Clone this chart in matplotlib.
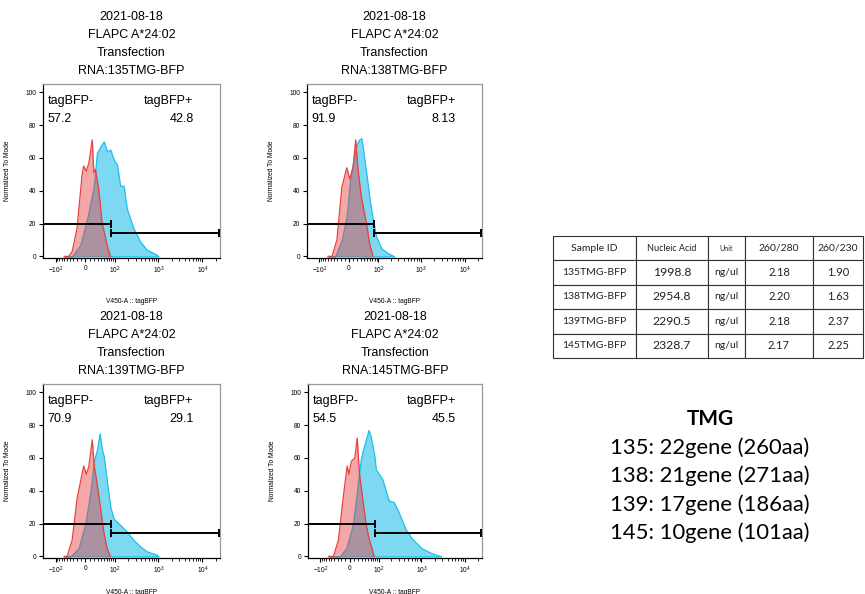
import matplotlib
matplotlib.use("Agg")
import matplotlib.pyplot as plt
import numpy as np

# ---- data ----
titles = ["RNA:135TMG-BFP", "RNA:138TMG-BFP", "RNA:139TMG-BFP", "RNA:145TMG-BFP"]
title_head = ["2021-08-18", "FLAPC A*24:02", "Transfection"]
neg_pct = ["57.2", "91.9", "70.9", "54.5"]
pos_pct = ["42.8", "8.13", "29.1", "45.5"]

# control (red) histograms: x = V450-A value, y = % of mode
red_x = [
    [-60, -43, -33, -20, -8, -4, 2, 8, 16, 20, 24, 33, 43, 61, 75],
    [-60, -45, -30, -17, -5, 2, 10, 16, 22, 31, 47, 58, 72],
    [-60, -49, -33, -20, -8, -4, 2, 8, 16, 21, 28, 38, 49, 61, 75],
    [-60, -43, -28, -16, -6, -2, 4, 12, 18, 24, 33, 43, 55, 75],
]
red_y = [
    [0, 0, 3, 17, 49, 55, 52, 57, 71, 51, 53, 41, 21, 7, 0],
    [0, 0, 10, 42, 54, 47, 55, 71, 53, 36, 20, 8, 0],
    [0, 0, 10, 35, 50, 55, 50, 55, 71, 55, 45, 30, 15, 5, 0],
    [0, 0, 10, 35, 55, 50, 58, 60, 72, 50, 35, 20, 10, 0],
]
# sample (blue) histograms
blue_x = [
    [-60, -33, -12, 4, 20, 28, 38, 49, 61, 75, 91, 110, 132, 159, 190, 270, 384, 545, 916, 1000],
    [-60, -35, -17, -5, 2, 10, 18, 24, 31, 36, 47, 58, 72, 88, 117, 168, 238],
    [-60, -38, -16, 0, 12, 20, 28, 36, 43, 49, 61, 75, 91, 110, 145, 190, 270, 384, 545, 916, 1000],
    [-60, -24, -8, 8, 20, 28, 38, 52, 60, 75, 83, 121, 173, 227, 295, 420, 595, 1000, 1680, 2840],
]
blue_y = [
    [0, 0, 7, 23, 43, 63, 67, 70, 64, 65, 59, 56, 43, 43, 29, 17, 9, 4, 1, 0],
    [0, 0, 10, 25, 45, 58, 68, 71, 72, 65, 50, 35, 22, 12, 5, 2, 0],
    [0, 0, 5, 20, 40, 58, 65, 75, 65, 61, 45, 30, 23, 21, 18, 15, 10, 6, 3, 1, 0],
    [0, 0, 5, 20, 45, 60, 68, 77, 73, 62, 53, 47, 34, 33, 27, 17, 11, 5, 2, 0],
]
gate_cut = 78
neg_gate_y = 20
pos_gate_y = 14.5

table_cols = ["Sample ID", "Nucleic Acid", "Unit", "260/280", "260/230"]
samples = ["135TMG-BFP", "138TMG-BFP", "139TMG-BFP", "145TMG-BFP"]
nucleic = ["1998.8", "2954.8", "2290.5", "2328.7"]
units = ["ng/ul", "ng/ul", "ng/ul", "ng/ul"]
r280 = ["2.18", "2.20", "2.18", "2.17"]
r230 = ["1.90", "1.63", "2.37", "2.25"]

tmg_lines = ["135: 22gene (260aa)", "138: 21gene (271aa)",
             "139: 17gene (186aa)", "145: 10gene (101aa)"]

W, H = 865, 594
plt.rcParams['font.family'] = ['Liberation Sans', 'DejaVu Sans']
plt.rcParams['mathtext.fontset'] = 'custom'
plt.rcParams['mathtext.rm'] = 'Liberation Sans'
plt.rcParams['mathtext.it'] = 'Liberation Sans'
fig = plt.figure(figsize=(W / 100, H / 100), dpi=100)

# pixel boxes of the four histogram panels: left, right, top, bottom
boxes = [(43, 220, 84, 258), (307, 482, 84, 258),
         (43, 220, 384, 558), (308, 482, 384, 558)]

def px_axes(l, r, t, b):
    return fig.add_axes([l / W, (H - b) / H, (r - l) / W, (b - t) / H])

minor = ([-v for v in range(10, 100, 10)] + list(range(10, 100, 10)) +
         list(range(200, 1000, 100)) + list(range(2000, 10000, 1000)) + [20000])

for i, (l, r, t, b) in enumerate(boxes):
    ax = px_axes(l, r, t, b)
    ax.set_xscale('asinh', linear_width=44)
    ax.fill_between(blue_x[i], blue_y[i], color='#7dd8f2', edgecolor='#1ebfea', lw=0.9, zorder=2)
    ax.fill_between(red_x[i], red_y[i], color='#e63c3c', alpha=0.45, lw=0, zorder=3)
    ax.plot(red_x[i], red_y[i], color='#e8403c', lw=0.9, zorder=4)
    ax.set_xlim(-200, 25000)
    ax.set_ylim(-1, 105)

    # gates
    ax.plot([-300, gate_cut], [neg_gate_y, neg_gate_y], color='black', lw=1.4, zorder=5)
    ax.plot([gate_cut], [neg_gate_y], marker='|', ms=6, mew=1.4, color='black', zorder=5)
    ax.plot([gate_cut, 23500], [pos_gate_y, pos_gate_y], color='black', lw=1.4, zorder=5)
    ax.plot([gate_cut, 23500], [pos_gate_y, pos_gate_y], ls='none', marker='|', ms=6, mew=1.4,
            color='black', zorder=5)

    ax.text(0.025, 0.90, "tagBFP-", transform=ax.transAxes, fontsize=9, va='center', ha='left')
    ax.text(0.025, 0.80, neg_pct[i], transform=ax.transAxes, fontsize=9, va='center', ha='left')
    ax.text(0.85, 0.90, "tagBFP+", transform=ax.transAxes, fontsize=9, va='center', ha='right')
    ax.text(0.85, 0.80, pos_pct[i], transform=ax.transAxes, fontsize=9, va='center', ha='right')

    ax.set_xticks([-100, 0, 100, 1000, 10000])
    ax.set_xticklabels([r"$-10^2$", "0", r"$10^2$", r"$10^3$", r"$10^4$"])
    ax.set_xticks(minor, minor=True)
    ax.set_yticks([0, 20, 40, 60, 80, 100])
    ax.tick_params(axis='both', which='major', labelsize=4.8, length=3, width=0.8, pad=2)
    ax.tick_params(axis='x', which='minor', length=2, width=0.6)
    ax.tick_params(axis='y', which='minor', left=False)
    ax.set_ylabel("Normalized To Mode", fontsize=4.8, labelpad=10)
    ax.set_xlabel("V450-A :: tagBFP", fontsize=4.8, labelpad=16 if i < 2 else 9)
    for s in ['top', 'right']:
        ax.spines[s].set_color('#999999')
    for s in ax.spines.values():
        s.set_linewidth(0.9)

    cx = (l + r) / 2 / W
    for k, line in enumerate(title_head + [titles[i]]):
        yp = t - 67 + 18 * k
        fig.text(cx, (H - yp) / H, line, fontsize=9, ha='center', va='center')

# table of RNA concentrations
tax = px_axes(553, 863, 236, 358)
tax.axis('off')
cells = [[samples[j], nucleic[j], units[j], r280[j], r230[j]] for j in range(len(samples))]
colw = np.array([83, 72, 37, 68, 50], dtype=float)
tbl = tax.table(cellText=cells, colLabels=table_cols, cellLoc='center',
                colWidths=list(colw / colw.sum()), bbox=[0, 0, 1, 1])
tbl.auto_set_font_size(False)
head_sizes = [7.5, 6.5, 5.0, 7.5, 7.5]
body_sizes = [7.5, 8.8, 7.5, 8.0, 8.0]
for (rr, cc), cell in tbl.get_celld().items():
    cell.set_linewidth(0.8)
    cell.set_edgecolor('#333333')
    txt = cell.get_text()
    txt.set_fontfamily('Lato')
    txt.set_color('#222222')
    txt.set_fontsize(head_sizes[cc] if rr == 0 else body_sizes[cc])

# TMG legend
fig.text(710 / W, (H - 419) / H, "TMG", fontsize=15, fontweight='bold', ha='center', va='center',
         family='Lato')
for k, line in enumerate(tmg_lines):
    fig.text(710 / W, (H - (448 + 28.2 * k)) / H, line, fontsize=15.8, ha='center', va='center',
             family='Lato')

fig.savefig("out.png", dpi=100)
